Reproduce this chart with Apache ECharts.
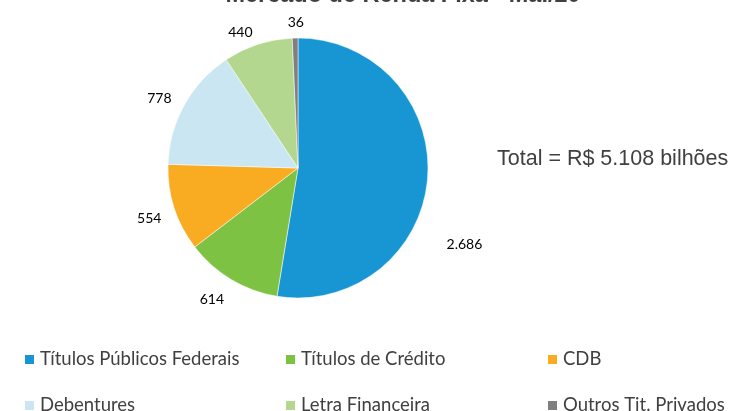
<!DOCTYPE html>
<html>
<head>
<meta charset="utf-8">
<script src="https://cdn.jsdelivr.net/npm/echarts@6/dist/echarts.min.js"></script>
<style>
  html, body { margin: 0; padding: 0; background: #fff; }
  #chart { width: 731px; height: 411px; }
</style>
</head>
<body>
<div id="chart"></div>
<script>
// Mercado de Renda Fixa - Mai/20 (R$ bilhões)
const categorias = ['Títulos Públicos Federais', 'Títulos de Crédito', 'CDB', 'Debentures', 'Letra Financeira', 'Outros Tit. Privados'];
const valores = [2686, 614, 554, 778, 440, 36];
const rotulos = ['2.686', '614', '554', '778', '440', '36'];
const cores = ['#1796d3', '#7dc243', '#f9ab22', '#c9e6f2', '#b3d78e', '#7f7f7f'];

// deslocamento dos rótulos (como no Excel)
const ajusteRotulo = [[4, 65], [3, 11], [-3, 7], [-4, -2], [20, -12], [14, -6]];

const chart = echarts.init(document.getElementById('chart'));

// uma legenda por item, grade 3 x 2
const colX = [23, 284, 546];
const linY = [350, 396];
const legendas = categorias.map((c, i) => ({
  left: colX[i % 3],
  top: linY[Math.floor(i / 3)],
  padding: 0,
  data: [c],
  icon: 'rect',
  itemWidth: 11,
  itemHeight: 11,
  itemGap: 5,
  textStyle: { fontFamily: 'Lato', fontSize: 18.5, color: '#404040' }
}));

const option = {
  color: cores,
  title: {
    text: 'Mercado de Renda Fixa - Mai/20',
    left: 398,
    textAlign: 'center',
    top: -21,
    textStyle: { fontFamily: 'Liberation Sans', fontSize: 23.5, fontWeight: 'bold', color: '#404040' }
  },
  graphic: [{
    type: 'text',
    left: 497,
    top: 148,
    style: { text: 'Total = R$ 5.108 bilhões', fontFamily: 'Liberation Sans', fontSize: 21.5, fill: '#404040' }
  }],
  legend: legendas,
  series: [{
    type: 'pie',
    center: [298, 168],
    radius: [0, 130],
    startAngle: 90,
    animation: false,
    itemStyle: { borderColor: '#fff', borderWidth: 0.5 },
    label: {
      show: true,
      position: 'outside',
      fontFamily: 'Lato',
      fontSize: 14,
      color: '#000',
      formatter: p => rotulos[p.dataIndex]
    },
    labelLine: { show: false, length: 10, length2: 0 },
    labelLayout: p => ({ dx: ajusteRotulo[p.dataIndex][0], dy: ajusteRotulo[p.dataIndex][1] }),
    emphasis: { disabled: true },
    data: categorias.map((c, i) => ({ name: c, value: valores[i] }))
  }]
};

chart.setOption(option);
</script>
</body>
</html>
